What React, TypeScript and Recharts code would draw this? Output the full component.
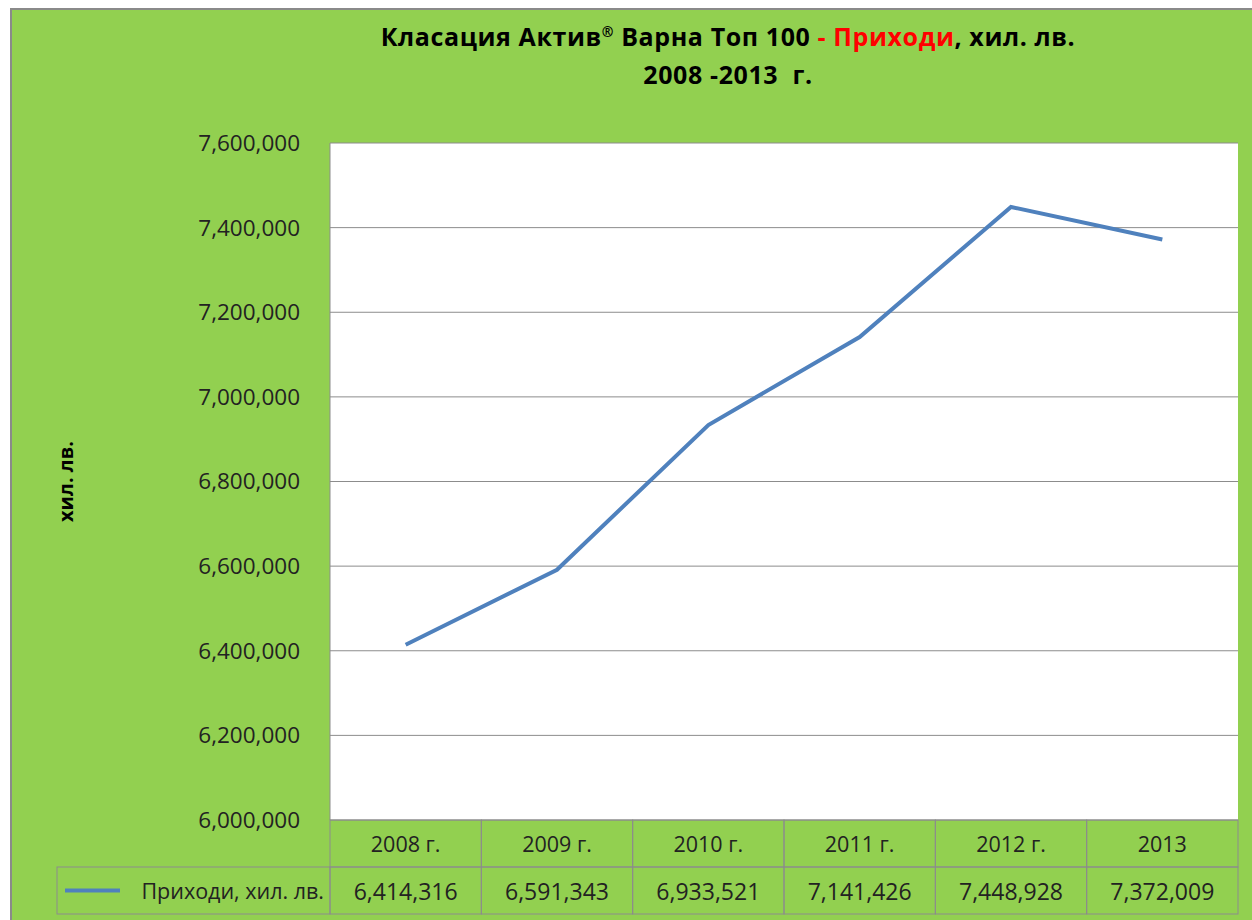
import React from "react";
import {
  LineChart,
  Line,
  XAxis,
  YAxis,
  CartesianGrid,
} from "recharts";

const categories = ["2008 г.", "2009 г.", "2010 г.", "2011 г.", "2012 г.", "2013"];
const revenue = [6414316, 6591343, 6933521, 7141426, 7448928, 7372009];
const yTicks = [6000000, 6200000, 6400000, 6600000, 6800000, 7000000, 7200000, 7400000, 7600000];
const seriesName = "Приходи, хил. лв.";
const axisTitle = "хил. лв.";

const data = categories.map((year, i) => ({ year, value: revenue[i] }));

const W = 1240;
const H = 910;
const M = { top: 133, right: 14, left: 0, bottom: 5 };
const Y_AXIS_W = 318;
const X_AXIS_H = 95;
const PLOT_W = W - M.left - M.right - Y_AXIS_W;
const BAND = PLOT_W / categories.length;
const ROW_H = 47;
const TABLE_LEFT = 45;
const GRID = "#8c8c8c";
const FONT = "'Open Sans', 'Noto Sans', sans-serif";
const fmt = (v: number) => v.toLocaleString("en-US");

function TableTick(props: any) {
  const { x, y, payload, index } = props;
  const left = x - BAND / 2;
  return (
    <g>
      {index === 0 && (
        <g>
          <rect x={TABLE_LEFT} y={y + ROW_H} width={left - TABLE_LEFT} height={ROW_H} fill="none" stroke={GRID} />
          <line x1={53} x2={108} y1={y + ROW_H * 1.5} y2={y + ROW_H * 1.5} stroke="#4F81BD" strokeWidth={4} />
          <text x={left - 6} y={y + ROW_H * 1.5} textAnchor="end" dominantBaseline="central" fontSize={21.5} fill="#222" fontFamily={FONT}>
            {seriesName}
          </text>
        </g>
      )}
      <rect x={left} y={y} width={BAND} height={ROW_H} fill="none" stroke={GRID} />
      <rect x={left} y={y + ROW_H} width={BAND} height={ROW_H} fill="none" stroke={GRID} />
      <text x={x} y={y + ROW_H / 2} textAnchor="middle" dominantBaseline="central" fontSize={21.5} fill="#222" fontFamily={FONT}>
        {payload.value}
      </text>
      <text x={x} y={y + ROW_H * 1.5} textAnchor="middle" dominantBaseline="central" fontSize={23} fill="#222" fontFamily={FONT}>
        {fmt(revenue[index])}
      </text>
    </g>
  );
}

function AxisTitle(props: any) {
  const { viewBox } = props;
  const cy = viewBox.y + viewBox.height / 2;
  return (
    <text x={53} y={cy} transform={`rotate(-90 53 ${cy})`} textAnchor="middle" dominantBaseline="central" fontSize={20} fontWeight="bold" fill="#000" fontFamily={FONT}>
      {axisTitle}
    </text>
  );
}

export default function App() {
  return (
    <div style={styles.frame}>
      <div style={styles.title}>
        <div>
          Класация Актив<sup style={styles.sup}>®</sup> Варна Топ 100 <span style={{ color: "#ff0000" }}>- Приходи</span>, хил. лв.
        </div>
        <div>2008 -2013&nbsp; г.</div>
      </div>
      <LineChart width={W} height={H} data={data} margin={M}>
        <CartesianGrid vertical={false} stroke={GRID} fill="#ffffff" />
        <XAxis
          dataKey="year"
          height={X_AXIS_H}
          padding={{ left: BAND / 2, right: BAND / 2 }}
          axisLine={false}
          tickLine={false}
          tickSize={0}
          tickMargin={0}
          interval={0}
          tick={<TableTick />}
        />
        <YAxis
          width={Y_AXIS_W}
          domain={[6000000, 7600000]}
          ticks={yTicks}
          tickFormatter={fmt}
          axisLine={{ stroke: GRID }}
          tickLine={false}
          tickMargin={24}
          tick={{ fill: "#222", fontSize: 22.5, fontFamily: FONT }}
          label={<AxisTitle />}
        />
        <Line
          type="linear"
          dataKey="value"
          name={seriesName}
          stroke="#4F81BD"
          strokeWidth={4}
          dot={false}
          isAnimationActive={false}
        />
      </LineChart>
    </div>
  );
}

const styles: Record<string, React.CSSProperties> = {
  frame: {
    position: "absolute",
    left: 10,
    top: 8,
    width: W,
    height: H + 10,
    background: "#92D050",
    borderLeft: "2px solid #8a8a8a",
    borderTop: "2px solid #8a8a8a",
  },
  title: {
    position: "absolute",
    left: 0,
    width: 1432,
    top: 7,
    textAlign: "center",
    fontFamily: FONT,
    fontWeight: "bold",
    fontSize: 25,
    letterSpacing: 0.6,
    color: "#000",
    lineHeight: "38px",
  },
  sup: { fontSize: 14, lineHeight: 0 },
};
